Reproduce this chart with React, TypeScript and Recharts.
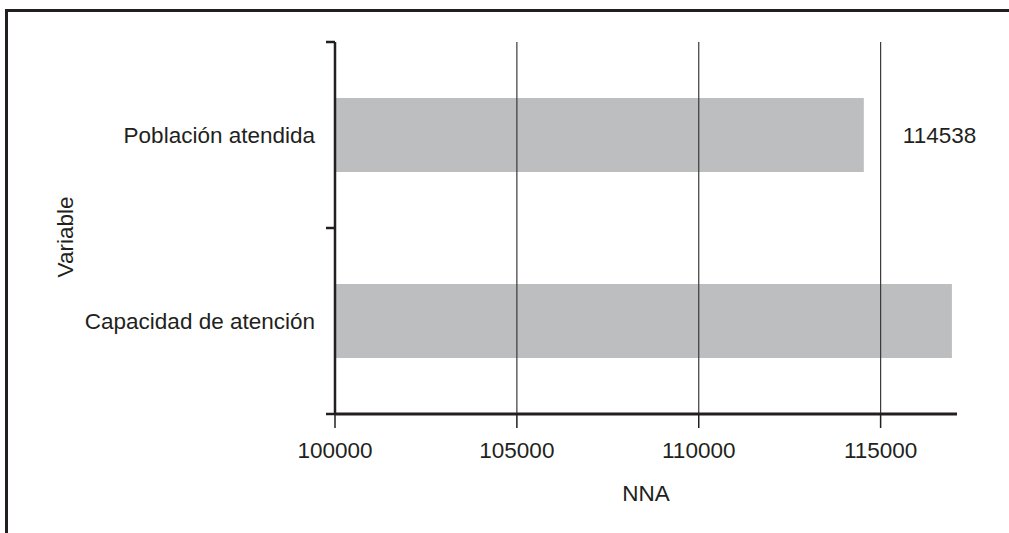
import { Bar, BarChart, LabelList, ReferenceLine, XAxis, YAxis } from "recharts";

const categories = ["Población atendida", "Capacidad de atención"];
const nnaValues = [114538, 116960];
const shownLabels: (number | null)[] = [114538, null];
const xTicks = [100000, 105000, 110000, 115000];
const xDomain: [number, number] = [100000, 117100];

const data = categories.map((name, i) => ({
  name,
  value: nnaValues[i],
  label: shownLabels[i],
}));

const W = 1009;
const H = 533;
const TOP = 42;
const Y_AXIS_W = 335;
const X_AXIS_H = 119;
const INK = "#231f20";
const FONT = "'Liberation Sans', Arial, sans-serif";
const FS = 22.5;

const plotH = H - TOP - X_AXIS_H;
const halfBand = plotH / categories.length / 2;

function YTick(props: any) {
  const { y, payload, index } = props;
  const last = index === categories.length - 1;
  return (
    <g>
      <text
        x={Y_AXIS_W - 20}
        y={y}
        dy="0.36em"
        textAnchor="end"
        fontSize={FS}
        fontFamily={FONT}
        fill={INK}
      >
        {payload.value}
      </text>
      <line x1={Y_AXIS_W - 9} x2={Y_AXIS_W} y1={y - halfBand} y2={y - halfBand} stroke={INK} strokeWidth={2.5} />
      {last && (
        <line x1={Y_AXIS_W - 9} x2={Y_AXIS_W} y1={y + halfBand} y2={y + halfBand} stroke={INK} strokeWidth={2.5} />
      )}
    </g>
  );
}

function XTick(props: any) {
  const { x, y, payload } = props;
  return (
    <text x={x} y={y} dy="0.71em" textAnchor="middle" fontSize={FS} fontFamily={FONT} fill={INK}>
      {payload.value}
    </text>
  );
}

function ValueLabel(props: any) {
  const { x, y, width, height, value } = props;
  if (value == null) return null;
  return (
    <text
      x={x + width + 39}
      y={y + height / 2}
      dy="0.36em"
      textAnchor="start"
      fontSize={FS}
      fontFamily={FONT}
      fill={INK}
    >
      {value}
    </text>
  );
}

export default function App() {
  return (
    <div style={{ position: "relative", width: W, height: H, background: "#fff" }}>
      <style>{`body{margin:0}`}</style>
      <div
        style={{
          position: "absolute",
          left: 5,
          top: 9,
          right: 0,
          bottom: 0,
          borderLeft: `3px solid ${INK}`,
          borderTop: `3px solid ${INK}`,
          pointerEvents: "none",
        }}
      />
      <BarChart
        width={W}
        height={H}
        data={data}
        layout="vertical"
        margin={{ top: TOP, right: 52, bottom: 0, left: 0 }}
      >
        {xTicks.slice(1).map((t) => (
          <ReferenceLine key={t} x={t} stroke="#3a3a3a" strokeWidth={1.2} />
        ))}
        <XAxis
          type="number"
          domain={xDomain}
          ticks={xTicks}
          allowDataOverflow
          height={X_AXIS_H}
          tickSize={14}
          tickMargin={14}
          tick={<XTick />}
          tickLine={{ stroke: INK, strokeWidth: 1.5 }}
          axisLine={{ stroke: INK, strokeWidth: 3 }}
          label={{
            value: "NNA",
            position: "insideTop",
            offset: 71,
            fontSize: FS,
            fontFamily: FONT,
            fill: INK,
          }}
        />
        <YAxis
          type="category"
          dataKey="name"
          width={Y_AXIS_W}
          tickLine={false}
          tick={<YTick />}
          axisLine={{ stroke: INK, strokeWidth: 2.5 }}
          label={{
            content: () => (
              <text
                x={73}
                y={237}
                transform="rotate(-90, 73, 237)"
                textAnchor="middle"
                fontSize={FS}
                fontFamily={FONT}
                fill={INK}
              >
                Variable
              </text>
            ),
          }}
        />
        <Bar dataKey="value" fill="#bcbec0" barSize={74} isAnimationActive={false}>
          <LabelList dataKey="label" content={<ValueLabel />} />
        </Bar>
      </BarChart>
    </div>
  );
}
